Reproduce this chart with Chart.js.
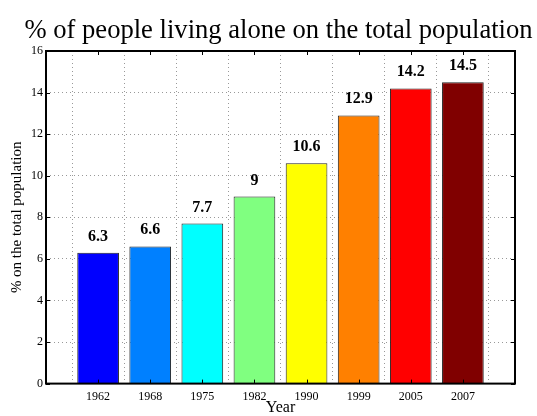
<!DOCTYPE html>
<html>
<head>
<meta charset="utf-8">
<script src="https://cdn.jsdelivr.net/npm/chart.js@4"></script>
<style>
  html, body { margin: 0; padding: 0; background: #fff; }
  #wrap { width: 537px; height: 416px; }
</style>
</head>
<body>
<div id="wrap"><canvas id="c" width="537" height="416"></canvas></div>
<script>
const years = ['1962', '1968', '1975', '1982', '1990', '1999', '2005', '2007']
const share = [6.3, 6.6, 7.7, 9, 10.6, 12.9, 14.2, 14.5]
const barColors = ['#0000ff', '#0080ff', '#00ffff', '#80ff80', '#ffff00', '#ff8000', '#ff0000', '#800000']
const yTicks = [0, 2, 4, 6, 8, 10, 12, 14, 16]
const chartTitle = '% of people living alone on the total population'
const xTitle = 'Year'

const serif = "'Liberation Serif', 'DejaVu Serif', serif"

// bar values written above each bar
const valueLabels = {
  id: 'valueLabels',
  afterDatasetsDraw(chart) {
    const ctx = chart.ctx
    const meta = chart.getDatasetMeta(0)
    ctx.save()
    ctx.font = 'bold 16px ' + serif
    ctx.fillStyle = '#000'
    ctx.textAlign = 'center'
    ctx.textBaseline = 'alphabetic'
    meta.data.forEach((bar, i) => {
      ctx.fillText(String(share[i]), bar.x, bar.y - 12)
    })
    ctx.restore()
  }
}

// box around plot plus inward tick marks on all sides, titles placed against the axes
const frame = {
  id: 'frame',
  afterDraw(chart) {
    const { ctx, chartArea: a, scales } = chart
    ctx.save()
    ctx.strokeStyle = '#000'
    ctx.lineWidth = 1
    ctx.beginPath()
    for (let i = 1; i <= years.length; i++) {
      const x = Math.round(scales.x.getPixelForValue(i)) + 0.5
      ctx.moveTo(x, a.bottom); ctx.lineTo(x, a.bottom - 4)
      ctx.moveTo(x, a.top); ctx.lineTo(x, a.top + 4)
    }
    yTicks.forEach(v => {
      const y = Math.round(scales.y.getPixelForValue(v)) + 0.5
      ctx.moveTo(a.left, y); ctx.lineTo(a.left + 4, y)
      ctx.moveTo(a.right, y); ctx.lineTo(a.right - 4, y)
    })
    ctx.stroke()
    ctx.lineWidth = 2
    ctx.strokeRect(a.left, a.top, a.right - a.left, a.bottom - a.top)

    const cx = (a.left + a.right) / 2
    ctx.fillStyle = '#000'
    ctx.textAlign = 'center'
    ctx.textBaseline = 'alphabetic'
    ctx.font = '26.6px ' + serif
    ctx.fillText(chartTitle, cx - 2, a.top - 13)
    ctx.font = '16px ' + serif
    ctx.fillText(xTitle, cx, a.bottom + 28)
    ctx.restore()
  }
}

new Chart(document.getElementById('c'), {
  type: 'bar',
  data: {
    datasets: [{
      data: share.map((v, i) => ({ x: i + 1, y: v })),
      backgroundColor: barColors,
      borderColor: '#222',
      borderWidth: 1,
      barPercentage: 0.8,
      categoryPercentage: 1
    }]
  },
  options: {
    responsive: false,
    animation: false,
    devicePixelRatio: 1,
    layout: { padding: { left: 8, right: 22, top: 51, bottom: 6 } },
    plugins: {
      legend: { display: false },
      tooltip: { enabled: false },
      title: { display: false }
    },
    scales: {
      x: {
        type: 'linear',
        min: 0,
        max: 9,
        offset: false,
        border: { display: false, dash: [1, 3] },
        grid: { color: '#999', drawTicks: false },
        ticks: {
          stepSize: 1,
          color: '#000',
          padding: 6,
          font: { family: serif, size: 12 },
          callback: v => years[v - 1] || ''
        }
      },
      y: {
        min: 0,
        max: 16,
        border: { display: false, dash: [1, 3] },
        grid: { color: '#999', drawTicks: false },
        afterBuildTicks: axis => { axis.ticks = yTicks.map(v => ({ value: v })) },
        ticks: {
          color: '#000',
          padding: 3,
          font: { family: serif, size: 12 }
        },
        title: {
          display: true,
          text: '% on the total population',
          color: '#000',
          font: { family: serif, size: 15 },
          padding: { top: 0, bottom: 2 }
        }
      }
    }
  },
  plugins: [valueLabels, frame]
})
</script>
</body>
</html>
